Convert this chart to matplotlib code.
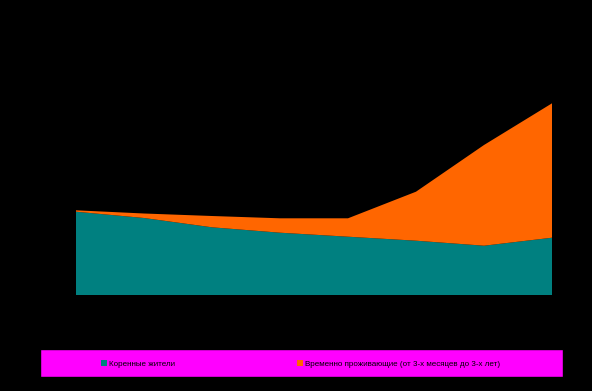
import matplotlib.pyplot as plt
from matplotlib.patches import Rectangle

plt.rcParams["font.family"] = ["Liberation Sans Narrow", "Liberation Sans", "DejaVu Sans"]

# ── data ─────────────────────────────────────────────────────────────────────
points = list(range(8))
native = [83.3, 77.0, 67.7, 62.3, 58.3, 54.3, 49.3, 57.3]
temporary = [1.4, 4.5, 11.3, 14.4, 18.4, 49.0, 100.7, 134.4]
labels = ["Коренные жители", "Временно проживающие (от 3-х месяцев до 3-х лет)"]
colors = ["#008080", "#FF6600"]

W, H = 592, 391
fig = plt.figure(figsize=(W / 100, H / 100), dpi=100, facecolor="black")
ax = fig.add_axes([76 / W, (H - 295) / H, (552 - 76) / W, (295 - 20) / H])
ax.set_facecolor("black")

polys = ax.stackplot(points, native, temporary, colors=colors, labels=labels, linewidth=0)
ax.set_xlim(0, 7)
ax.set_ylim(0, 275)
ax.axis("off")

# legend band
fig.patches.append(Rectangle((40 / W, (H - 377) / H), 523 / W, 28 / H,
                             transform=fig.transFigure, facecolor="#FF00FF",
                             edgecolor="black", linewidth=1))

for poly, lab, x0 in zip(polys, labels, [101, 297]):
    fig.legend([poly], [lab], loc="center left", bbox_to_anchor=(x0 / W, (H - 364) / H),
               frameon=False, fontsize=5.8, handlelength=0.75, handleheight=0.75,
               handletextpad=0.3, borderpad=0, borderaxespad=0)

fig.savefig("out.png", dpi=100, facecolor="black")
